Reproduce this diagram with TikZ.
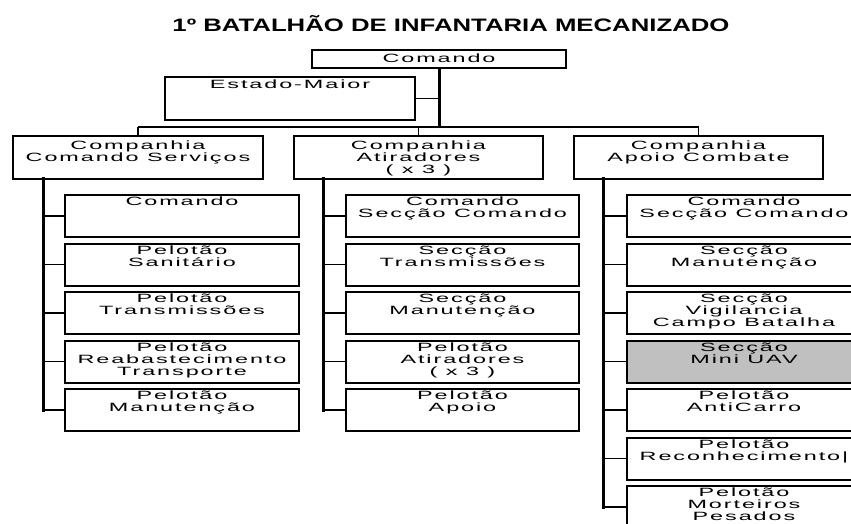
\documentclass[tikz,border=0pt]{standalone}
\usepackage{fontspec}
\newfontfamily\boxfont[FakeStretch=1.95,LetterSpace=16]{Liberation Sans}
\newfontfamily\titlefont[FakeStretch=1.43]{Liberation Sans}
\definecolor{uavgrey}{HTML}{C0C0C0}
\newcommand\firststrut{\rule{0pt}{9pt}}
\tikzset{
  orgbox/.style={draw=black, line width=2.2pt, rectangle, anchor=north west, inner sep=0pt, minimum height=42pt},
  txt/.style={anchor=north, inner sep=0pt, align=center, font=\boxfont\fontsize{12}{12}\selectfont, xshift=1pt},
  bus/.style={line width=3pt, line cap=rect},
  link/.style={line width=1.6pt},
}
\begin{document}
\begin{tikzpicture}[x=1pt,y=-1pt]
\useasboundingbox (0,0) rectangle (851,523);
\clip (0,0) rectangle (851,523);

% title
\node[anchor=base, inner sep=0pt, font=\titlefont\bfseries\fontsize{18}{20}\selectfont] (title) at (451,31) {1º BATALHÃO DE INFANTARIA MECANIZADO};

% top level
\node[orgbox, minimum width=254pt, minimum height=18pt] (cmd) at (311,49) {};
\node[txt, anchor=base] (cmdt) at (438,62) {Comando};
\node[orgbox, minimum width=250pt, minimum height=43pt] (em) at (164,76) {};
\node[txt] (emt) at (289,79) {\firststrut Estado-Maior};

% companhias
\node[orgbox, minimum width=250pt, minimum height=43pt] (c1) at (12,135) {};
\node[txt] (c1t) at (137,140) {\firststrut Companhia\\Comando Serviços};
\node[orgbox, minimum width=249pt, minimum height=43pt] (c2) at (293,135) {};
\node[txt] (c2t) at (417.5,140) {\firststrut Companhia\\Atiradores\\( x 3 )};
\node[orgbox, minimum width=249pt, minimum height=43pt] (c3) at (573,135) {};
\node[txt] (c3t) at (697.5,140) {\firststrut Companhia\\Apoio Combate};

% upper connectors
\coordinate (busy) at (0,127);
\draw[link] (em.east) -- (em.east -| cmd.south);
\draw[bus, line cap=butt] (cmd.south) -- (cmd.south |- busy);
\draw[link] (c1.north |- busy) -- (c3.north |- busy);
\draw[link] (c1.north |- busy) -- (c1.north);
\draw[link] (c2.north |- busy) -- (c2.north);
\draw[link] (c3.north |- busy) -- (c3.north);

% column 1
\coordinate (b1) at (43,178);
\foreach \t [count=\k] in {{Comando},{Pelotão\\Sanitário},{Pelotão\\Transmissões},{Pelotão\\Reabastecimento\\Transporte},{Pelotão\\Manutenção}} {
  \pgfmathsetmacro\yy{194+48.5*(\k-1)}
  \node[orgbox, minimum width=234pt] (a\k) at (64,\yy) {};
  \node[txt] (al\k) at (181,\yy+2.5) {\firststrut\t};
  \draw[link] (a\k.west -| b1) -- (a\k.west);
}
\draw[bus] (b1) -- (b1 |- a5.west);

% column 2
\coordinate (b2) at (323,178);
\foreach \t [count=\k] in {{Comando\\Secção Comando},{Secção\\Transmissões},{Secção\\Manutenção},{Pelotão\\Atiradores\\( x 3 )},{Pelotão\\Apoio}} {
  \pgfmathsetmacro\yy{194+48.5*(\k-1)}
  \node[orgbox, minimum width=233pt] (p\k) at (345,\yy) {};
  \node[txt] (pl\k) at (461.5,\yy+2.5) {\firststrut\t};
  \draw[link] (p\k.west -| b2) -- (p\k.west);
}
\draw[bus] (b2) -- (b2 |- p5.west);

% column 3
\coordinate (b3) at (603,178);
\foreach \t/\f [count=\k] in {{Comando\\Secção Comando}/white,{Secção\\Manutenção}/white,{Secção\\Vigilancia\\Campo Batalha}/white,{Secção\\Mini UAV}/uavgrey,{Pelotão\\AntiCarro}/white,{Pelotão\\Reconhecimento|}/white,{Pelotão\\Morteiros\\Pesados}/white} {
  \pgfmathsetmacro\yy{194+48.5*(\k-1)}
  \node[orgbox, fill=\f, minimum width=234pt] (s\k) at (626,\yy) {};
  \node[txt] (sl\k) at (743,\yy+2.5) {\firststrut\t};
  \draw[link] (s\k.west -| b3) -- (s\k.west);
}
\draw[bus] (b3) -- (b3 |- s7.west);
\end{tikzpicture}
\end{document}
